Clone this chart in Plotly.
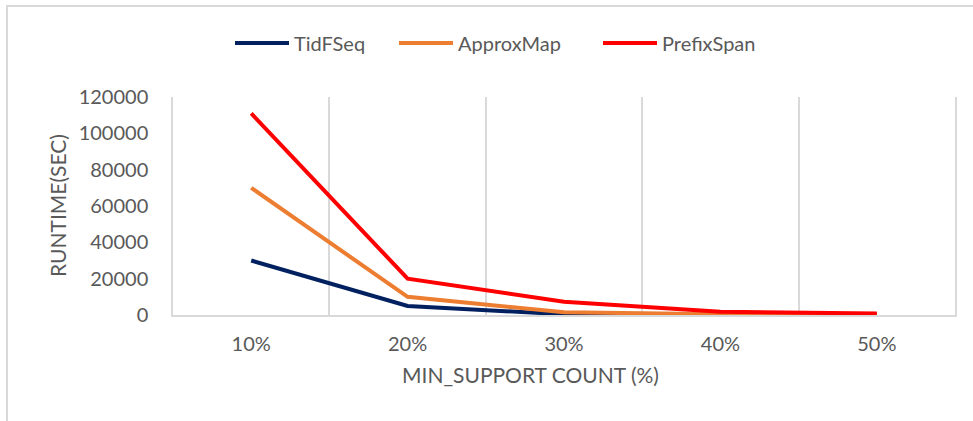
import plotly.graph_objects as go

categories = ["10%", "20%", "30%", "40%", "50%"]
tidfseq = [30000, 5000, 400, 150, 80]
approxmap = [70000, 10000, 1500, 400, 200]
prefixspan = [111000, 20000, 7300, 1800, 800]
y_ticks = [0, 20000, 40000, 60000, 80000, 100000, 120000]

W, H = 973, 421
L, R, T, B = 173, 18, 97, 106
pw, ph = W - L - R, H - T - B

def px_x(x):
    return (x - L) / pw

def px_y(y):
    return (H - B - y) / ph

FONT = "Lato"
GRAY = "#595959"
GRID = "#d9d9d9"

series = [("TidFSeq", tidfseq, "#002060", "legend", 235),
          ("ApproxMap", approxmap, "#ED7D31", "legend2", 399),
          ("PrefixSpan", prefixspan, "#FF0000", "legend3", 603)]

fig = go.Figure()
legends = {}
for name, vals, color, leg, lx in series:
    fig.add_trace(go.Scatter(x=categories, y=vals, mode="lines", name=name,
                             legend=leg, showlegend=True,
                             line=dict(color=color, width=4)))
    legends[leg] = dict(orientation="h", x=px_x(lx - 5), xanchor="left",
                        y=px_y(43), yanchor="middle", itemwidth=54,
                        bgcolor="rgba(0,0,0,0)", visible=True,
                        font=dict(family=FONT, size=20, color=GRAY))

fig.update_layout(
    width=W, height=H, showlegend=True,
    margin=dict(l=L, r=R, t=T, b=B, autoexpand=False),
    paper_bgcolor="white", plot_bgcolor="white",
    font=dict(family=FONT, size=20, color=GRAY),
    xaxis=dict(type="category", range=[-0.5, 4.5], tickson="boundaries",
               showgrid=True, gridcolor=GRID, gridwidth=1.5, ticks="",
               showline=True, linecolor=GRID, linewidth=1.5,
               tickfont=dict(size=20, color=GRAY), ticklabelstandoff=10),
    yaxis=dict(range=[0, 120000], tickvals=y_ticks, tickformat="d",
               showgrid=False, zeroline=False, showline=True, mirror=True,
               linecolor=GRID, linewidth=1.5, ticks="",
               tickfont=dict(size=20, color=GRAY), ticklabelstandoff=19),
    annotations=[
        dict(text="MIN_SUPPORT COUNT (%)", xref="paper", yref="paper",
             x=px_x(530), y=px_y(374), xanchor="center", yanchor="middle",
             showarrow=False, font=dict(size=21, color=GRAY)),
        dict(text="RUNTIME(SEC)", xref="paper", yref="paper",
             x=px_x(57), y=px_y(206), xanchor="center", yanchor="middle",
             textangle=-90, showarrow=False, font=dict(size=21, color=GRAY)),
    ],
    shapes=[
        dict(type="line", xref="paper", yref="paper", x0=px_x(7), x1=px_x(7),
             y0=px_y(6), y1=px_y(H + 5), line=dict(color=GRID, width=2)),
        dict(type="line", xref="paper", yref="paper", x0=px_x(6), x1=px_x(W + 5),
             y0=px_y(6), y1=px_y(6), line=dict(color=GRID, width=2)),
    ],
    **legends,
)

fig.write_html("out.html", config={"displayModeBar": False},
               post_script="document.body.style.margin='0';document.body.style.overflow='hidden';")
